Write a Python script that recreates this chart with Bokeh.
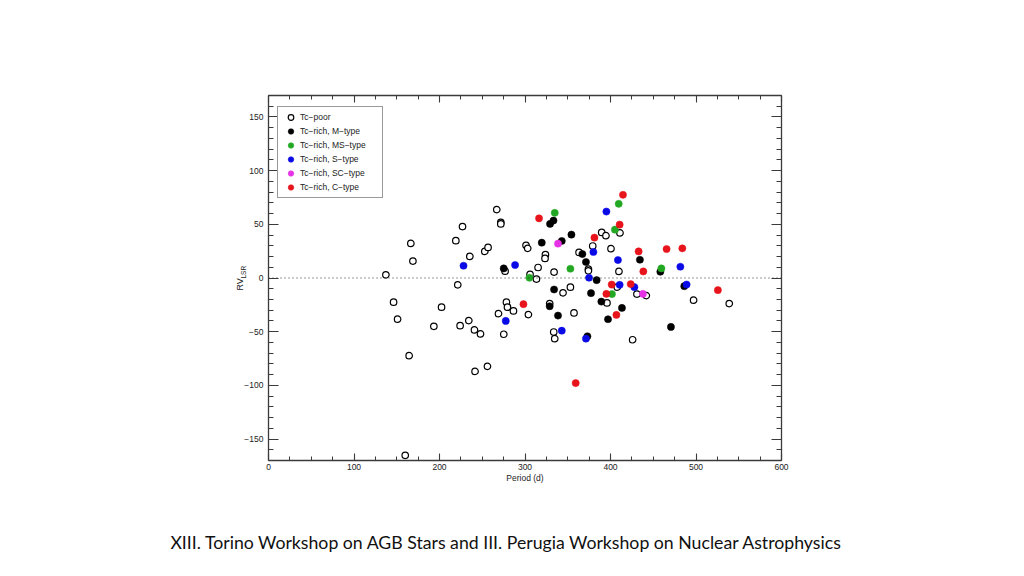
import numpy as np
from bokeh.plotting import figure
from bokeh.models import (LinearAxis, FixedTicker, Range1d, Span, Title, Legend, LegendItem,
                          CustomJSTickFormatter)
from bokeh.embed import file_html
from bokeh.resources import INLINE

# ---- data (Period [d], RV_LSR) ----
poor_p = [137.3, 146.3, 151.0, 166.5, 168.9, 164.5, 159.9, 193.4, 202.4, 219.1, 221.4, 224.1,
          226.9, 235.5, 234.3, 240.9, 241.6, 248.0, 253.0, 256.8, 256.1, 267.0, 271.7, 271.7,
          276.7, 278.3, 279.5, 286.5, 269.0, 275.2, 301.2, 303.2, 305.9, 304.0, 313.4, 315.3,
          323.9, 323.4, 328.9, 333.6, 334.8, 334.0, 344.5, 353.1, 357.3, 363.2, 374.2, 374.2,
          379.2, 389.7, 394.7, 395.9, 400.6, 408.0, 411.1, 409.9, 430.9, 441.9, 425.9, 497.2,
          538.9]
poor_rv = [3.0, -22.5, -38.4, 32.2, 15.8, -72.4, -165.2, -45.0, -27.2, 34.8, -6.4, -44.4,
           47.9, 20.1, -39.7, -48.4, -87.0, -52.1, 24.8, 28.5, -82.3, 63.7, 51.9, 50.4,
           6.4, -22.5, -27.2, -30.7, -33.2, -52.4, 30.4, 27.6, 3.3, -34.1, -1.0, 9.8,
           21.7, 18.2, -23.8, -50.3, -56.5, 5.5, -13.8, -8.5, -32.5, 23.8, 8.3, 6.7,
           29.8, 42.5, 39.4, -23.2, 27.3, -8.5, 42.0, 6.1, -15.0, -16.4, -57.5, -20.7,
           -23.8]

m_p = [275.1, 329.3, 333.3, 354.3, 343.0, 319.6, 367.1, 434.4, 371.3, 383.8, 334.0, 377.2,
       389.3, 328.9, 413.4, 338.6, 397.1, 373.0, 470.7, 458.3, 486.3]
m_rv = [8.9, 50.4, 53.5, 40.4, 34.5, 32.9, 22.3, 17.0, 14.9, -2.0, -10.7, -14.1,
        -22.0, -26.3, -27.9, -35.0, -38.4, -54.3, -45.6, 5.8, -7.6]

ms_p = [334.8, 409.6, 405.2, 353.1, 305.2, 401.7, 459.5]
ms_rv = [60.7, 69.1, 45.0, 8.6, 0.2, -15.0, 8.9]

s_p = [228.1, 395.2, 380.0, 408.7, 288.4, 374.9, 410.7, 427.9, 481.7, 489.0, 277.5, 343.0, 371.3]
s_rv = [11.4, 61.9, 24.2, 16.7, 12.1, 0.2, -6.4, -8.5, 10.5, -6.1, -40.0, -49.1, -56.5]

sc_p = [338.6, 437.9]
sc_rv = [32.0, -14.8]

c_p = [316.4, 414.6, 410.7, 381.2, 432.9, 438.4, 401.4, 423.6, 395.2, 298.2, 406.9, 359.3,
       465.6, 484.0, 525.6]
c_rv = [55.6, 77.5, 49.7, 37.6, 24.8, 6.1, -6.1, -5.7, -14.8, -24.4, -34.4, -97.9,
        27.0, 27.6, -11.3]

labels = ["Tc\u2212poor", "Tc\u2212rich, M\u2212type", "Tc\u2212rich, MS\u2212type",
          "Tc\u2212rich, S\u2212type", "Tc\u2212rich, SC\u2212type", "Tc\u2212rich, C\u2212type"]
x_ticks = [0, 100, 200, 300, 400, 500, 600]
y_ticks = [-150, -100, -50, 0, 50, 100, 150]
x_label = "Period (d)"
caption = "XIII. Torino Workshop on AGB Stars and III. Perugia Workshop on Nuclear Astrophysics"

# ---- figure ----
FONT = "Liberation Sans"
AX = "#3a3a3a"
p = figure(width=1008, height=560, output_backend="svg", toolbar_location=None,
           x_range=Range1d(0, 600), y_range=Range1d(-170, 170),
           x_axis_location=None, y_axis_location=None,
           min_border_left=268, min_border_right=227, min_border_top=95, min_border_bottom=100)
p.grid.visible = False
p.outline_line_color = None
p.background_fill_color = "white"
p.border_fill_color = "white"

fmt = CustomJSTickFormatter(code="return tick < 0 ? '\\u2212' + Math.abs(tick) : String(tick);")
blank = CustomJSTickFormatter(code="return '';")

def style(ax, major_in, minor_in):
    ax.axis_line_color = AX
    ax.axis_line_width = 1.3
    ax.major_tick_line_color = AX
    ax.minor_tick_line_color = AX
    ax.major_tick_line_width = 1.1
    ax.minor_tick_line_width = 1.0
    ax.major_tick_in = major_in
    ax.major_tick_out = 0
    ax.minor_tick_in = minor_in
    ax.minor_tick_out = 0
    ax.major_label_text_font = FONT
    ax.major_label_text_font_size = "8.5px"
    ax.major_label_text_color = "#222222"

xt = FixedTicker(ticks=x_ticks, minor_ticks=list(range(0, 601, 25)))
yt = FixedTicker(ticks=y_ticks, minor_ticks=list(range(-170, 171, 10)))

bottom = LinearAxis(ticker=xt, formatter=fmt, axis_label=x_label)
style(bottom, 7, 4)
bottom.major_label_standoff = 3
bottom.axis_label_standoff = 0
bottom.axis_label_text_font = FONT
bottom.axis_label_text_font_style = "normal"
bottom.axis_label_text_font_size = "8.5px"
bottom.axis_label_text_color = "#222222"
p.add_layout(bottom, "below")

# caption: label of an invisible extra axis below the plot
cap_axis = LinearAxis(ticker=FixedTicker(ticks=[]), formatter=blank,
                      axis_label=caption + "\u00a0" * 8)
cap_axis.axis_line_color = None
cap_axis.major_tick_line_color = None
cap_axis.minor_tick_line_color = None
cap_axis.major_tick_out = 0
cap_axis.minor_tick_out = 0
cap_axis.major_label_text_font_size = "0px"
cap_axis.major_label_standoff = 0
cap_axis.axis_label_standoff = 46
cap_axis.axis_label_text_font = "Lato"
cap_axis.axis_label_text_font_size = "17.7px"
cap_axis.axis_label_text_font_style = "normal"
cap_axis.axis_label_text_color = "#111111"
p.add_layout(cap_axis, "below")

top = LinearAxis(ticker=xt, formatter=blank)
style(top, 7, 4)
top.major_label_text_font_size = "0px"
p.add_layout(top, "above")

left = LinearAxis(ticker=yt, formatter=fmt)
style(left, 10, 5)
left.major_label_standoff = 5
p.add_layout(left, "left")

right = LinearAxis(ticker=yt, formatter=blank)
style(right, 10, 5)
right.major_label_text_font_size = "0px"
p.add_layout(right, "right")

# y-axis label RV with subscript LSR, as side-panel titles
t_lsr = Title(text="LSR", align="left", offset=182, standoff=-11, text_font=FONT,
              text_font_size="6.5px", text_font_style="normal", text_color="#222222")
t_rv = Title(text="RV", align="left", offset=170, standoff=-6, text_font=FONT,
             text_font_size="9px", text_font_style="normal", text_color="#222222")
p.add_layout(t_lsr, "left")
p.add_layout(t_rv, "left")

p.add_layout(Span(location=0, dimension="width", line_color="#333333",
                  line_width=1, line_dash="1 3"))

r_poor = p.scatter(poor_p, poor_rv, size=6.5, marker="circle", fill_color="white",
                   line_color="black", line_width=1.2)
series = [(m_p, m_rv, "black"), (ms_p, ms_rv, "#22a822"), (s_p, s_rv, "#0a0ae6"),
          (sc_p, sc_rv, "#e632e6"), (c_p, c_rv, "#e8141c")]
rends = [r_poor]
for xs, ys, col in series:
    rends.append(p.scatter(xs, ys, size=7.2, marker="circle", fill_color=col,
                           line_color=col, line_width=0.5))

legend = Legend(items=[LegendItem(label=l, renderers=[r]) for l, r in zip(labels, rends)],
                location=(9, 262), orientation="vertical")
legend.border_line_color = "#333333"
legend.border_line_width = 1.2
legend.background_fill_color = "white"
legend.background_fill_alpha = 1
legend.label_text_font = FONT
legend.label_text_font_size = "8.5px"
legend.label_text_color = "#222222"
legend.label_height = 14
legend.glyph_height = 14
legend.glyph_width = 19
legend.label_width = 79
legend.label_standoff = 0
legend.spacing = 0
legend.padding = 3
legend.margin = 0
p.add_layout(legend, "center")

open("out.html", "w").write(file_html(p, INLINE))
